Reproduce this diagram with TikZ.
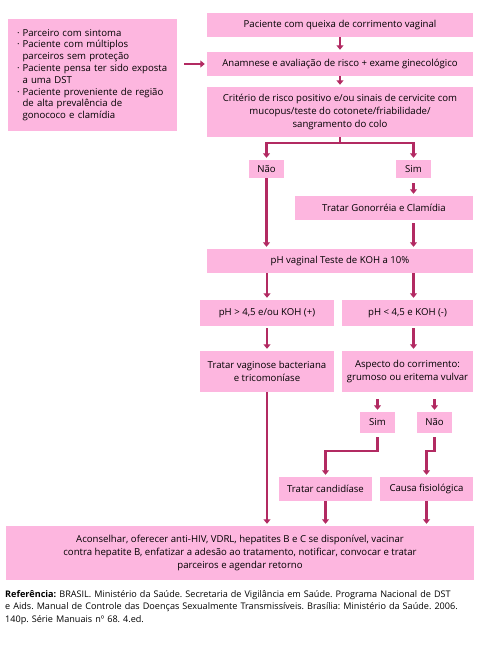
\documentclass[tikz,border=0pt]{standalone}
\usepackage{fontspec}
\setmainfont{Open Sans}
\usetikzlibrary{arrows.meta}
\definecolor{rosa}{RGB}{253,182,223}
\definecolor{vinho}{RGB}{178,42,98}
\tikzset{
  caixa/.style={fill=rosa, align=center, inner sep=0pt, font=\fontsize{9.6}{12.7}\selectfont},
  seta/.style={draw=vinho, line width=2.2pt, -{Triangle[width=7pt,length=4.5pt]}, shorten >=2pt}
}
\newcommand{\pto}{\textperiodcentered}

\begin{document}
\frenchspacing
\begin{tikzpicture}[x=1pt,y=-1pt]
    \useasboundingbox (0,0) rectangle (489,658);
    % coluna principal
    \node[caixa, minimum width=266pt, minimum height=24pt] (queixa) at (340,25) {Paciente com queixa de corrimento vaginal};
    \node[caixa, minimum width=266pt, minimum height=24pt] (anamnese) at (340,64) {Anamnese e avaliação de risco + exame ginecológico};
    \node[caixa, minimum width=266pt, minimum height=50pt] (criterio) at (340,112) {Critério de risco positivo e/ou sinais de cervicite com\\mucopus/teste do cotonete/friabilidade/\\sangramento do colo};
    \node[caixa, minimum height=112pt, text width=151pt, inner xsep=9pt, align=left] (fator) at (92.5,75) {\renewcommand{\arraystretch}{0.93}%
      \begin{tabular}{@{}l@{\hspace{3pt}}l@{}}
        \pto & Parceiro com sintoma\\
        \pto & Paciente com múltiplos\\
             & parceiros sem proteção\\
        \pto & Paciente pensa ter sido exposta\\
             & a uma DST\\
        \pto & Paciente proveniente de região\\
             & de alta prevalência de\\
             & gonococo e clamídia
      \end{tabular}};
    \node[caixa, minimum width=35pt, minimum height=18pt] (nao1) at (266.5,169) {Não};
    \node[caixa, minimum width=35pt, minimum height=18pt] (sim1) at (413.5,169) {Sim};
    \node[caixa, minimum width=178pt, minimum height=24pt] (gonorreia) at (384,208) {Tratar Gonorréia e Clamídia};
    \node[caixa, minimum width=266pt, minimum height=24pt] (phvaginal) at (340,261) {pH vaginal Teste de KOH a 10\%};
    \node[caixa, minimum width=134pt, minimum height=26pt] (phmaior) at (267,313) {pH > 4,5 e/ou KOH (+)};
    \node[caixa, minimum width=131pt, minimum height=26pt] (phmenor) at (407.5,313) {pH < 4,5 e KOH (-)};
    \node[caixa, minimum width=134pt, minimum height=41pt] (vaginose) at (267,371.5) {Tratar vaginose bacteriana\\e tricomoníase};
    \node[caixa, minimum width=131pt, minimum height=41pt] (aspecto) at (407.5,371.5) {Aspecto do corrimento:\\grumoso ou eritema vulvar};
    \node[caixa, minimum width=35pt, minimum height=21pt] (sim2) at (377.5,422.5) {Sim};
    \node[caixa, minimum width=35pt, minimum height=21pt] (nao2) at (434.5,422.5) {Não};
    \node[caixa, minimum width=93pt, minimum height=24pt] (candidiase) at (325.5,489) {Tratar candidíase};
    \node[caixa, minimum width=93pt, minimum height=24pt] (causa) at (426.5,489) {Causa fisiológica};
    \node[caixa, minimum width=468pt, minimum height=54pt] (conduta) at (240,553) {Aconselhar, oferecer anti-HIV, VDRL, hepatites B e C se disponível, vacinar\\contra hepatite B, enfatizar a adesão ao tratamento, notificar, convocar e tratar\\parceiros e agendar retorno};
    \node[anchor=north west, text width=480pt, align=left, inner sep=0pt, font=\fontsize{9.1}{12.5}\selectfont] (ref) at (5,590) {\textbf{Referência:} BRASIL. Ministério da Saúde. Secretaria de Vigilância em Saúde. Programa Nacional de DST\\e Aids. Manual de Controle das Doenças Sexualmente Transmissíveis. Brasília: Ministério da Saúde. 2006.\\140p. Série Manuais nº 68. 4.ed.};
    % setas
    \draw[seta] ([xshift=7pt]fator.east |- anamnese.west) -- (anamnese.west);
    \draw[seta] (queixa) -- (anamnese);
    \draw[seta] (anamnese) -- (criterio);
    \draw[seta] (criterio.south) -- ++(0,6) -| (nao1.north);
    \draw[seta] (criterio.south) -- ++(0,6) -| (sim1.north);
    \draw[seta, shorten <=5pt] (sim1.south) -- (sim1.south |- gonorreia.north);
    \draw[seta] (nao1.south) -- (nao1.south |- phvaginal.north);
    \draw[seta, shorten <=3pt] (sim1.south |- gonorreia.south) -- (sim1.south |- phvaginal.north);
    \draw[seta] (phmaior.north |- phvaginal.south) -- (phmaior.north);
    \draw[seta] (sim1.south |- phvaginal.south) -- (sim1.south |- phmenor.north);
    \draw[seta, shorten <=2pt] (phmaior) -- (vaginose);
    \draw[seta, shorten <=2pt] (sim1.south |- phmenor.south) -- (sim1.south |- aspecto.north);
    \draw[seta, shorten <=7pt] (sim2.north |- aspecto.south) -- (sim2.north);
    \draw[seta, shorten <=7pt] (nao2.north |- aspecto.south) -- (nao2.north);
    \draw[seta, shorten <=4pt] (sim2.south) -- ++(0,18) -| (candidiase.north);
    \draw[seta, shorten <=4pt] (nao2.south) -- ++(0,18) -| (causa.north);
    \draw[seta] (vaginose.south) -- (vaginose.south |- conduta.north);
    \draw[seta] (candidiase.south) -- (candidiase.south |- conduta.north);
    \draw[seta] (causa.south) -- (causa.south |- conduta.north);
\end{tikzpicture}
\end{document}
